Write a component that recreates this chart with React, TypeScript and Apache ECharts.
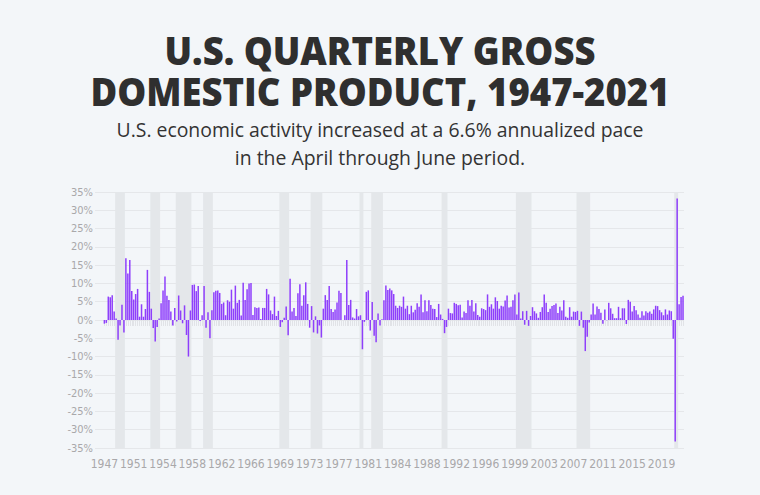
import React, { useEffect, useRef } from "react";
import * as echarts from "echarts";

// Real GDP, quarterly change at an annualized rate (%), 1947 Q2 – 2021 Q2
const gdp1940s = [-1.0, -0.8, 6.4, 6.2, 6.8, 2.3, 0.4, -5.4, -1.5, 4.2, -3.4];
const gdp1950s = [
  16.9, 12.7, 16.4, 7.9, 5.6, 7.1, 8.5, 0.9, 4.3, 0.9, 3.0, 13.7, 7.7, 3.1, -2.2, -5.9,
  -1.9, 0.4, 4.6, 8.1, 11.9, 6.6, 5.5, 2.3, -1.5, 3.3, -0.4, 6.7, 2.6, -0.9, 4.0, -4.1,
  -10.0, 2.6, 9.6, 9.7, 7.9, 9.3, -0.3, 1.3,
];
const gdp1960s = [
  9.3, -2.1, 2.1, -5.0, 2.7, 7.6, 8.0, 8.1, 7.4, 4.4, 4.8, 1.3, 5.4, 5.0, 8.3, 3.1,
  9.4, 4.7, 5.5, 1.2, 10.2, 5.5, 8.4, 10.0, 10.1, 1.4, 3.5, 3.3, 3.4, 0.3, 3.3, 3.3,
  8.5, 7.0, 2.6, 1.6, 6.4, 1.1, 2.5, -1.9,
];
const gdp1970s = [
  -0.6, 0.6, 3.7, -4.2, 11.3, 2.3, 3.3, 1.1, 7.3, 9.8, 3.9, 6.8, 10.3, 4.4, -2.1, 3.8,
  -3.4, 1.0, -3.7, -1.5, -4.8, 3.1, 6.8, 5.5, 9.3, 3.0, 2.2, 2.9, 4.8, 8.0, 7.4, 0.0,
  1.3, 16.4, 4.1, 5.5, 0.7, 0.4, 3.0, 1.0,
];
const gdp1980s = [
  1.3, -8.0, -0.5, 7.7, 8.1, -2.9, 4.9, -4.3, -6.1, 1.8, -1.5, 0.2, 5.4, 9.4, 8.2, 8.6,
  8.1, 7.1, 3.9, 3.3, 3.9, 3.6, 6.4, 3.1, 3.9, 1.6, 3.9, 2.1, 2.8, 4.6, 3.6, 7.0,
  2.1, 5.4, 2.4, 5.4, 4.1, 3.1, 3.0, 0.8,
];
const gdp1990s = [
  4.4, 1.5, 0.3, -3.6, -1.9, 3.1, 1.9, 1.8, 4.7, 4.4, 4.0, 4.2, 0.7, 2.3, 1.9, 5.4,
  3.9, 5.5, 2.3, 4.6, 1.4, 0.9, 3.2, 3.0, 2.7, 7.0, 3.6, 4.3, 3.1, 6.2, 5.2, 3.1,
  3.9, 3.7, 5.3, 6.7, 3.4, 3.6, 5.4, 7.0,
];
const gdp2000s = [
  1.5, 7.5, 0.4, 2.4, -1.3, 2.5, -1.6, 1.1, 3.5, 2.4, 1.8, 0.6, 2.2, 3.5, 7.0, 4.7,
  2.2, 3.1, 3.8, 4.1, 4.5, 1.9, 3.6, 2.6, 5.4, 0.9, 0.6, 3.5, 0.9, 2.3, 2.2, 2.5,
  -1.6, 2.3, -2.1, -8.5, -4.6, -0.7, 1.5, 4.5,
];
const gdp2010s = [
  1.5, 3.7, 3.0, 2.0, -1.0, 2.9, -0.1, 4.7, 3.2, 1.7, 0.5, 0.5, 3.6, 0.5, 3.2, 3.2,
  -1.1, 5.5, 5.0, 2.3, 3.8, 2.7, 1.5, 0.6, 2.4, 1.2, 2.4, 2.0, 2.3, 1.7, 2.9, 3.9,
  3.8, 2.7, 2.1, 1.3, 2.9, 1.5, 2.6, 2.4,
];
const gdp2020s = [-5.1, -33.2, 33.2, 4.3, 6.3, 6.6];

const gdpValues = [
  ...gdp1940s, ...gdp1950s, ...gdp1960s, ...gdp1970s, ...gdp1980s,
  ...gdp1990s, ...gdp2000s, ...gdp2010s, ...gdp2020s,
];

// Quarter categories, 1947 Q2 onward
const quarters: string[] = gdpValues.map((_, i) => {
  const q = i + 1; // 1947 Q2 is index 0
  return `${1947 + Math.floor(q / 4)} Q${(q % 4) + 1}`;
});

// x-axis tick labels, one every 15 quarters
const tickLabels = [
  "1947", "1951", "1954", "1958", "1962", "1966", "1969", "1973", "1977", "1981",
  "1984", "1988", "1992", "1996", "1999", "2003", "2007", "2011", "2015", "2019",
];
const tickStep = 15;

// Shaded recession periods
const recessionStart = [
  "1948 Q4", "1953 Q2", "1956 Q3", "1960 Q1", "1969 Q4", "1973 Q4",
  "1980 Q1", "1981 Q3", "1990 Q3", "2000 Q1", "2007 Q4", "2020 Q2",
];
const recessionEnd = [
  "1949 Q4", "1954 Q2", "1958 Q2", "1961 Q1", "1970 Q4", "1975 Q1",
  "1980 Q2", "1982 Q4", "1991 Q1", "2001 Q4", "2009 Q2", "2020 Q3",
];

const titleText = "U.S. QUARTERLY GROSS\nDOMESTIC PRODUCT, 1947-2021";
const subtitleText =
  "U.S. economic activity increased at a 6.6% annualized pace\nin the April through June period.";

const yTicks = { min: -35, max: 35, step: 5 };

export default function App() {
  const ref = useRef<HTMLDivElement>(null);

  useEffect(() => {
    if (!ref.current) return;
    const chart = echarts.init(ref.current, null, { renderer: "svg" });

    const barData = gdpValues.map((v, i) => [i, v]);
    const bands = recessionStart.map((s, k) => [
      { xAxis: quarters.indexOf(s) - 0.5 },
      { xAxis: quarters.indexOf(recessionEnd[k]) + 0.5 },
    ]);
    const allIdx = quarters.map((_, i) => i);
    const labelIdx = tickLabels.map((_, k) => k * tickStep);

    const axisFont =
      "'Liberation Sans Narrow', 'DejaVu Sans Condensed', 'Roboto Condensed', 'Liberation Sans', sans-serif";

    chart.setOption({
      animation: false,
      backgroundColor: "#f3f6f9",
      graphic: [
        {
          type: "text",
          x: 380,
          y: 30,
          scaleX: 0.96,
          style: {
            text: titleText,
            textAlign: "center",
            textVerticalAlign: "top",
            fontFamily: "'Open Sans', 'Noto Sans', sans-serif",
            fontSize: 38,
            fontWeight: 800,
            lineHeight: 41,
            fill: "#2f2f2f",
          },
        },
        {
          type: "text",
          x: 380,
          y: 115,
          style: {
            text: subtitleText,
            textAlign: "center",
            textVerticalAlign: "top",
            fontFamily: "'Open Sans', 'Noto Sans', sans-serif",
            fontSize: 19.4,
            fontWeight: 400,
            lineHeight: 28,
            fill: "#333333",
          },
        },
      ],
      grid: { left: 95, right: 76, top: 192, bottom: 47 },
      xAxis: {
        type: "value",
        min: -4.8,
        max: quarters.length - 0.5,
        splitLine: { show: false },
        axisLine: { show: false },
        axisTick: {
          show: true,
          customValues: allIdx,
          length: 6,
          lineStyle: { color: "#e1e3e7", width: 1 },
        },
        axisLabel: {
          customValues: labelIdx,
          formatter: (v: number) => tickLabels[Math.round(v / tickStep)] ?? "",
          color: "#a9a8aa",
          fontSize: 12,
          fontFamily: axisFont,
          margin: 10,
        },
      },
      yAxis: {
        type: "value",
        min: yTicks.min,
        max: yTicks.max,
        interval: yTicks.step,
        axisLine: { show: false },
        axisTick: { show: false },
        axisLabel: {
          formatter: "{value}%",
          color: "#a9a8aa",
          fontSize: 11,
          fontFamily: axisFont,
          margin: 2,
        },
        splitLine: { lineStyle: { color: "#e5e7ea", width: 1 } },
      },
      series: [
        {
          type: "line",
          data: [],
          z: 1,
          silent: true,
          markArea: {
            silent: true,
            itemStyle: { color: "#e4e7ea" },
            data: bands,
          },
        },
        {
          type: "bar",
          data: barData,
          z: 3,
          barWidth: 1.5,
          itemStyle: {
            color: "#8e3ffb",
          },
        },
      ],
    });

    return () => chart.dispose();
  }, []);

  return (
    <div
      ref={ref}
      style={{ position: "fixed", left: 0, top: 0, width: 760, height: 495 }}
    />
  );
}
